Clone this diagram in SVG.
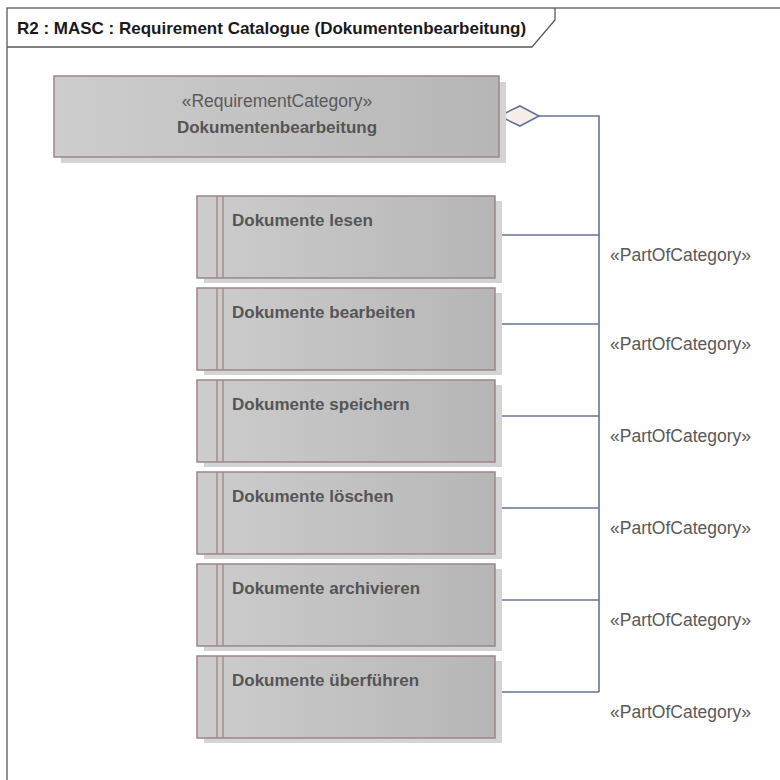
<svg xmlns="http://www.w3.org/2000/svg" width="780" height="780" viewBox="0 0 780 780">
  <defs>
    <linearGradient id="boxfill" x1="0" y1="0" x2="1" y2="0">
      <stop offset="0" stop-color="#cdcdcd"/>
      <stop offset="1" stop-color="#b6b6b6"/>
    </linearGradient>
    <style>
      .frame { fill: none; stroke: #5a5a5a; stroke-width: 1.3; }
      .title { font-family: "Liberation Sans", Arial, sans-serif; font-size: 17px; font-weight: bold; fill: #1a1a1a; }
      .shadow { fill: #d4d4d4; }
      .box { fill: url(#boxfill); stroke: #9e8686; stroke-width: 1.5; }
      .bar { stroke: #9e8686; stroke-width: 1.3; fill: none; }
      .bold { font-family: "Liberation Sans", Arial, sans-serif; font-size: 17px; font-weight: bold; fill: #555555; }
      .stereo { font-family: "Liberation Sans", Arial, sans-serif; font-size: 17.5px; fill: #5a5a5a; }
      .conn { fill: none; stroke: #66739a; stroke-width: 1.6; }
      .diamond { fill: #f7eeea; stroke: #66739a; stroke-width: 1.6; }
      .lbl { font-family: "Liberation Sans", Arial, sans-serif; font-size: 17.5px; fill: #595959; }
    </style>
  </defs>
  <rect x="0" y="0" width="780" height="780" fill="#ffffff"/>

  <g id="frame">
    <rect class="frame" x="7" y="8" width="800" height="800"/>
    <path class="frame" d="M7,47 H532 L555,20 V8"/>
    <text class="title" x="17" y="34">R2 : MASC : Requirement Catalogue (Dokumentenbearbeitung)</text>
  </g>

  <g id="connectors">
    <path class="conn" d="M539,116 H599 V692"/>
    <path class="conn" d="M495,235 H599"/>
    <path class="conn" d="M495,324 H599"/>
    <path class="conn" d="M495,416 H599"/>
    <path class="conn" d="M495,508 H599"/>
    <path class="conn" d="M495,600 H599"/>
    <path class="conn" d="M495,692 H599"/>
    <polygon class="diamond" points="499,116 520,106 539,116 520,126"/>
    <text class="lbl" x="610" y="261">«PartOfCategory»</text>
    <text class="lbl" x="610" y="350">«PartOfCategory»</text>
    <text class="lbl" x="610" y="442">«PartOfCategory»</text>
    <text class="lbl" x="610" y="534">«PartOfCategory»</text>
    <text class="lbl" x="610" y="626">«PartOfCategory»</text>
    <text class="lbl" x="610" y="718">«PartOfCategory»</text>
  </g>

  <g id="category">
    <rect class="shadow" x="61" y="82" width="445" height="81"/>
    <rect class="box" x="54" y="76" width="445" height="81"/>
    <text class="stereo" x="277" y="107" text-anchor="middle">«RequirementCategory»</text>
    <text class="bold" x="277" y="133" text-anchor="middle">Dokumentenbearbeitung</text>
  </g>

  <g id="req-lesen">
    <rect class="shadow" x="204" y="201" width="298" height="82"/>
    <rect class="box" x="197" y="196" width="298" height="82"/>
    <path class="bar" d="M217,196 V278 M223,196 V278"/>
    <text class="bold" x="232" y="226">Dokumente lesen</text>
  </g>

  <g id="req-bearbeiten">
    <rect class="shadow" x="204" y="293" width="298" height="82"/>
    <rect class="box" x="197" y="288" width="298" height="82"/>
    <path class="bar" d="M217,288 V370 M223,288 V370"/>
    <text class="bold" x="232" y="318">Dokumente bearbeiten</text>
  </g>

  <g id="req-speichern">
    <rect class="shadow" x="204" y="385" width="298" height="82"/>
    <rect class="box" x="197" y="380" width="298" height="82"/>
    <path class="bar" d="M217,380 V462 M223,380 V462"/>
    <text class="bold" x="232" y="410">Dokumente speichern</text>
  </g>

  <g id="req-loeschen">
    <rect class="shadow" x="204" y="477" width="298" height="82"/>
    <rect class="box" x="197" y="472" width="298" height="82"/>
    <path class="bar" d="M217,472 V554 M223,472 V554"/>
    <text class="bold" x="232" y="502">Dokumente löschen</text>
  </g>

  <g id="req-archivieren">
    <rect class="shadow" x="204" y="569" width="298" height="82"/>
    <rect class="box" x="197" y="564" width="298" height="82"/>
    <path class="bar" d="M217,564 V646 M223,564 V646"/>
    <text class="bold" x="232" y="594">Dokumente archivieren</text>
  </g>

  <g id="req-ueberfuehren">
    <rect class="shadow" x="204" y="661" width="298" height="82"/>
    <rect class="box" x="197" y="656" width="298" height="82"/>
    <path class="bar" d="M217,656 V738 M223,656 V738"/>
    <text class="bold" x="232" y="686">Dokumente überführen</text>
  </g>
</svg>
